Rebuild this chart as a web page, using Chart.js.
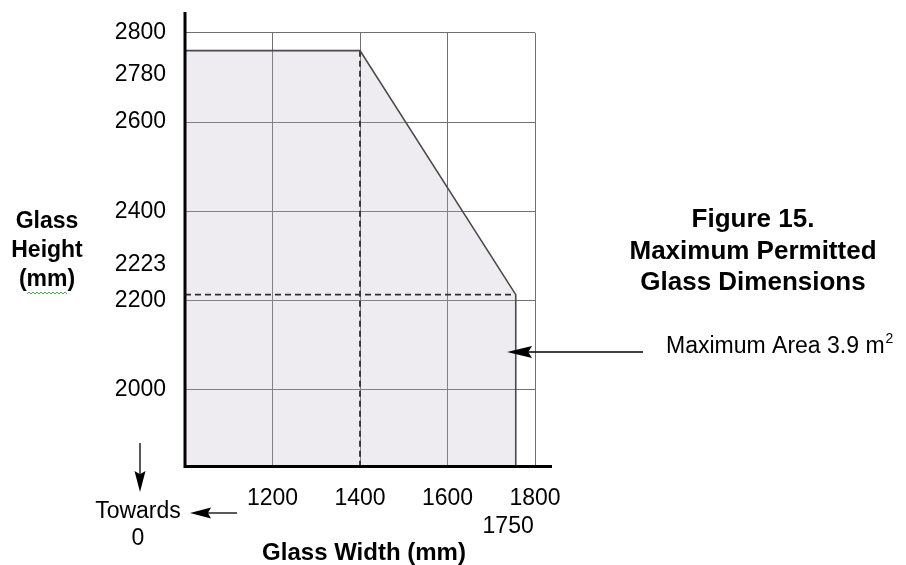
<!DOCTYPE html>
<html>
<head>
<meta charset="utf-8">
<script src="https://cdn.jsdelivr.net/npm/chart.js@4/dist/chart.umd.min.js"></script>
<style>
	html, body { margin: 0; padding: 0; background: #fff; }
	#wrap { width: 906px; height: 565px; position: relative; }
</style>
</head>
<body>
<div id="wrap"><canvas id="myChart"></canvas></div>
<script>
// tick labels
const widthTicks = [1200, 1400, 1600, 1800]
const heightTicks = [2000, 2200, 2400, 2600, 2800]
const extraHeightLabels = ['2780', '2223']
const extraWidthLabel = '1750'

// permitted area outline (mm)
const outlineWidth = [1000, 1400, 1756, 1756]
const outlineHeight = [2760, 2760, 2213, 1831]

// dashed guides
const guideVWidth = [1400, 1400]
const guideVHeight = [2760, 1831]
const guideHWidth = [1000, 1756]
const guideHHeight = [2213, 2213]

const xMin = 1000, xMax = 1800, yMin = 1831, yMax = 2800

const FONT = "'Liberation Sans', Arial, sans-serif"

function pts(xs, ys) {
	return xs.map((x, i) => ({ x: x, y: ys[i] }))
}

function arrow(ctx, x1, y1, x2, y2, len, half) {
	// line from (x1,y1) to tip (x2,y2)
	const a = Math.atan2(y2 - y1, x2 - x1)
	const c = Math.cos(a), s = Math.sin(a)
	ctx.beginPath()
	ctx.moveTo(x1, y1)
	ctx.lineTo(x2 - c * len * 0.8, y2 - s * len * 0.8)
	ctx.stroke()
	ctx.beginPath()
	ctx.moveTo(x2, y2)
	ctx.lineTo(x2 - c * len - s * half, y2 - s * len + c * half)
	ctx.lineTo(x2 - c * len * 0.85, y2 - s * len * 0.85)
	ctx.lineTo(x2 - c * len + s * half, y2 - s * len - c * half)
	ctx.closePath()
	ctx.fill()
}

const decorations = {
	id: 'decorations',
	afterDraw(chart) {
		const ctx = chart.ctx
		const xs = chart.scales.x
		const ys = chart.scales.y
		const area = chart.chartArea
		ctx.save()
		ctx.fillStyle = '#000'
		ctx.strokeStyle = '#000'

		// axes
		ctx.lineWidth = 3
		ctx.beginPath()
		ctx.moveTo(area.left, 12)
		ctx.lineTo(area.left, area.bottom + 1.5)
		ctx.lineTo(552, area.bottom + 1.5)
		ctx.stroke()

		// extra tick labels
		ctx.font = '23px ' + FONT
		ctx.textAlign = 'right'
		ctx.textBaseline = 'middle'
		ctx.fillText(extraHeightLabels[0], 166, ys.getPixelForValue(2780) + 33)
		ctx.fillText(extraHeightLabels[1], 166, ys.getPixelForValue(2223) - 26)
		ctx.textAlign = 'center'
		ctx.fillText(extraWidthLabel, xs.getPixelForValue(1750) - 5, 527)

		// towards 0
		ctx.fillText('Towards', 138, 512)
		ctx.fillText('0', 138, 539)
		ctx.lineWidth = 1.3
		arrow(ctx, 140, 443, 140, 492, 21, 5.5)
		arrow(ctx, 237, 513, 190, 513, 21, 5.5)

		// maximum area
		arrow(ctx, 643, 352, 507, 352, 25, 6)
		ctx.textAlign = 'left'
		ctx.fillText('Maximum Area 3.9 m', 666, 347)
		const w = ctx.measureText('Maximum Area 3.9 m').width
		ctx.font = '14px ' + FONT
		ctx.fillText('2', 666 + w + 1, 339)

		// axis titles
		ctx.textAlign = 'center'
		ctx.font = 'bold 23px ' + FONT
		ctx.fillText('Glass', 47, 222)
		ctx.fillText('Height', 47, 251)
		ctx.fillText('(mm)', 47, 280)
		ctx.font = 'bold 24px ' + FONT
		ctx.fillText('Glass Width (mm)', 364, 553)

		// spell-check squiggle
		ctx.strokeStyle = '#4caf50'
		ctx.lineWidth = 1
		ctx.beginPath()
		for (let x = 27, k = 0; x <= 67; x += 2, k++) {
			const y = 293 + (k % 2 ? -1 : 1)
			if (k === 0) ctx.moveTo(x, y)
			else ctx.lineTo(x, y)
		}
		ctx.stroke()

		// figure caption
		ctx.font = 'bold 26px ' + FONT
		ctx.fillText('Figure 15.', 753, 220)
		ctx.fillText('Maximum Permitted', 753, 252)
		ctx.fillText('Glass Dimensions', 753, 283)
		ctx.restore()
	},
}

var ctx = document.getElementById('myChart').getContext('2d')
var myChart = new Chart(ctx, {
	type: 'line',
	data: {
		datasets: [
			{
				data: pts(outlineWidth, outlineHeight),
				borderColor: '#4a4a4a',
				borderWidth: 1.6,
				backgroundColor: 'rgba(190, 180, 200, 0.25)',
				fill: 'start',
				pointRadius: 0,
				tension: 0,
			},
			{
				data: pts(guideVWidth, guideVHeight),
				borderColor: '#000',
				borderWidth: 1.8,
				borderDash: [6, 4],
				pointRadius: 0,
				fill: false,
			},
			{
				data: pts(guideHWidth, guideHHeight),
				borderColor: '#000',
				borderWidth: 1.8,
				borderDash: [6, 4],
				pointRadius: 0,
				fill: false,
			},
		],
	},
	options: {
		responsive: true,
		maintainAspectRatio: false,
		animation: false,
		layout: { padding: { left: 0, top: 29, right: 371, bottom: 0 } },
		plugins: {
			legend: { display: false },
			tooltip: { enabled: false },
		},
		scales: {
			x: {
				type: 'linear',
				min: xMin,
				max: xMax,
				afterBuildTicks: (scale) => {
					scale.ticks = widthTicks.map((v) => ({ value: v }))
				},
				afterFit: (scale) => {
					scale.height = 100
				},
				grid: { color: '#707070', lineWidth: 1, drawTicks: false },
				border: { display: false },
				ticks: {
					color: '#000',
					font: { family: FONT, size: 23 },
					padding: 20,
					maxRotation: 0,
					callback: (v) => String(v),
				},
			},
			y: {
				type: 'linear',
				min: yMin,
				max: yMax,
				afterBuildTicks: (scale) => {
					scale.ticks = heightTicks.map((v) => ({ value: v }))
				},
				afterFit: (scale) => {
					scale.width = 185
				},
				grid: { color: '#707070', lineWidth: 1, drawTicks: false },
				border: { display: false },
				ticks: {
					color: '#000',
					font: { family: FONT, size: 23 },
					padding: 19,
					callback: (v) => String(v),
				},
			},
		},
	},
	plugins: [decorations],
})
</script>
</body>
</html>
